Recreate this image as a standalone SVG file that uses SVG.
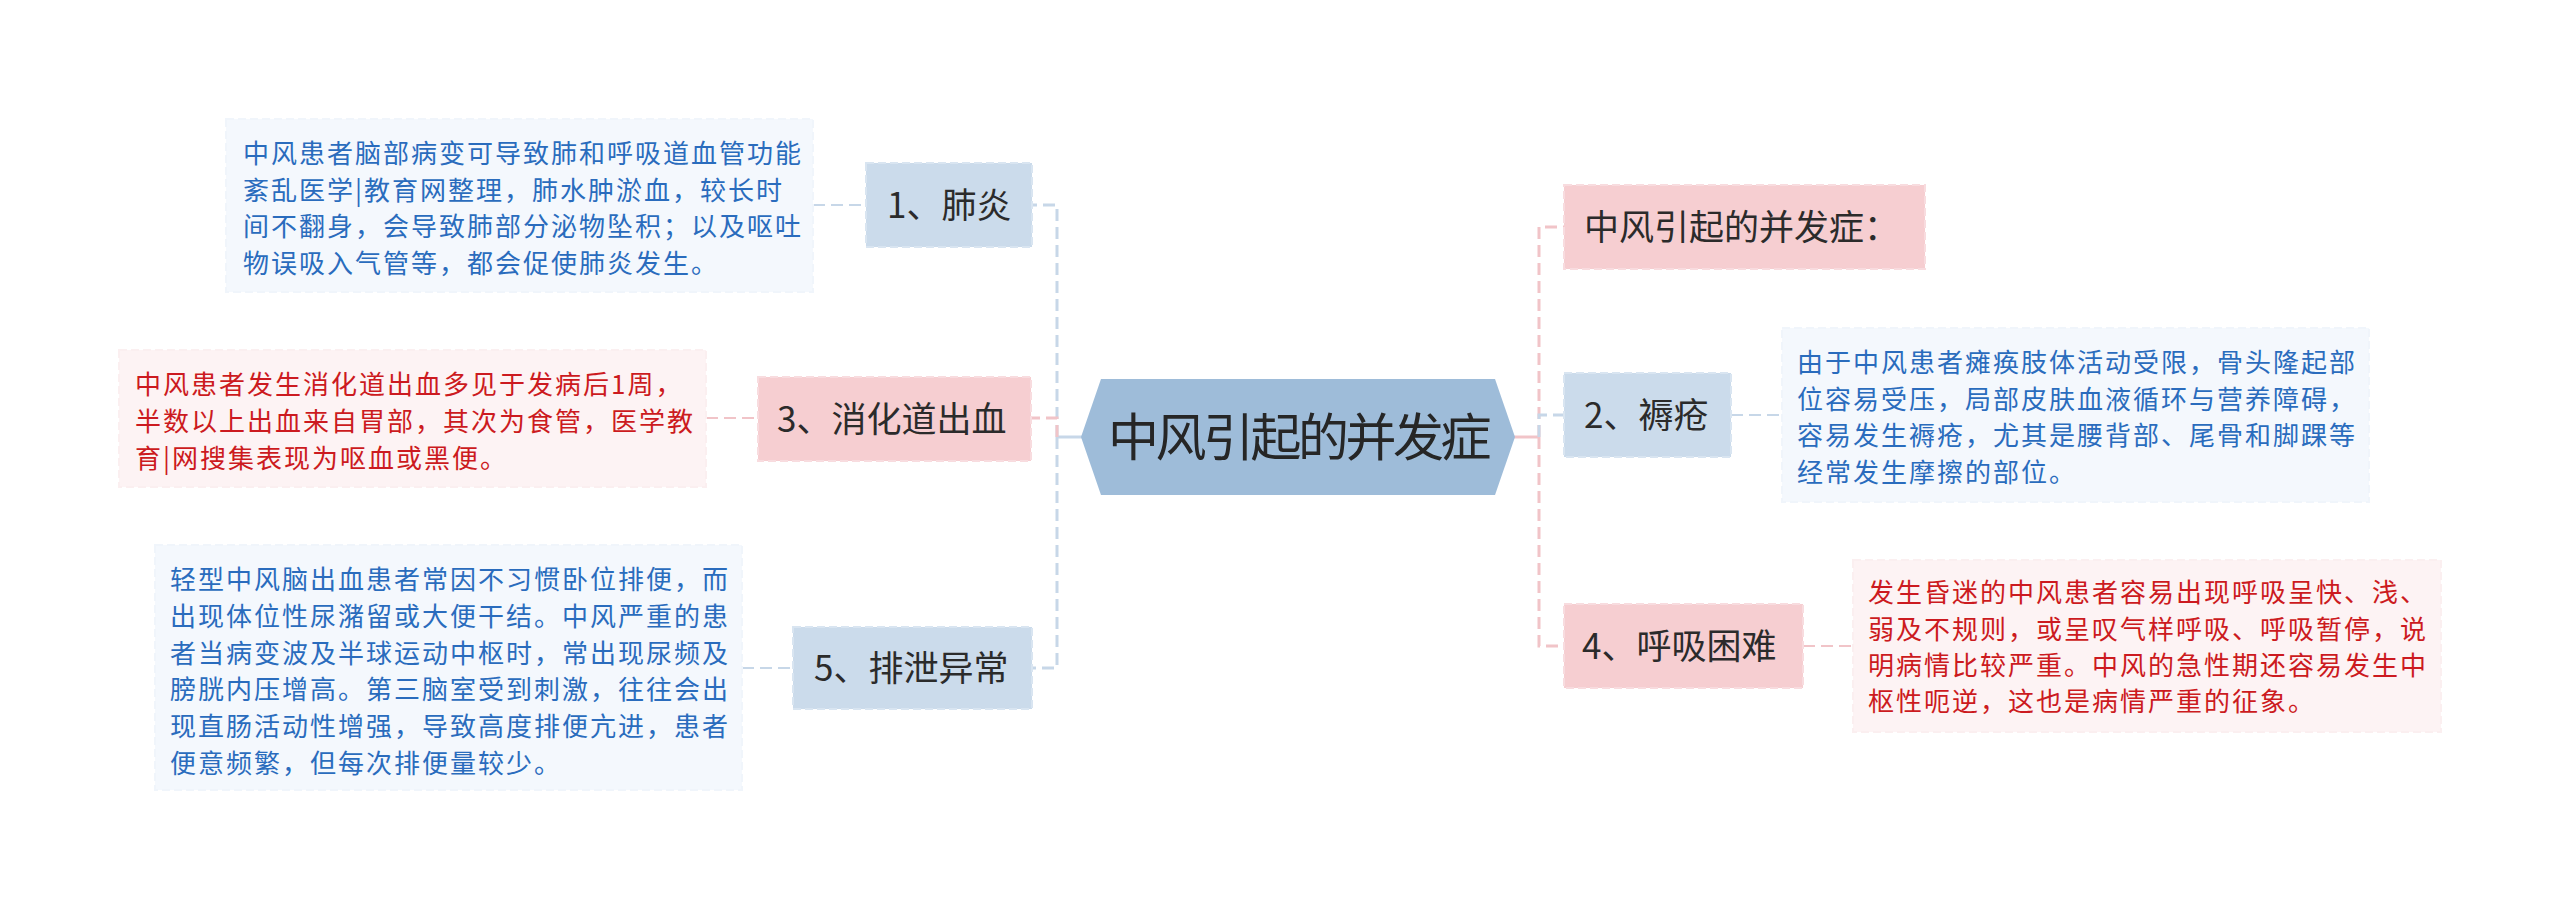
<svg xmlns="http://www.w3.org/2000/svg" width="2560" height="910" viewBox="0 0 2560 910">
<style>
text{font-family:"Noto Sans CJK SC","Noto Sans",sans-serif}
.lbl{font-size:35px;fill:#2b2b2b}
.dt{font-size:26px;letter-spacing:2px}
.db{fill:#2a6cbd}
.dr{fill:#cc1a20}
.nb{fill:#cbdbeb;stroke:#d9e5f1;stroke-width:2;stroke-dasharray:8 4}
.np{fill:#f6ced1;stroke:#f8dcdf;stroke-width:2;stroke-dasharray:8 4}
.xb{fill:#f4f8fd;stroke:#f0f5fb;stroke-width:2;stroke-dasharray:8 4}
.xp{fill:#fdf3f4;stroke:#fbeff0;stroke-width:2;stroke-dasharray:8 4}
.cb{fill:none;stroke:#c7d7e8;stroke-width:3;stroke-dasharray:12 6}
.cp{fill:none;stroke:#f1c4c8;stroke-width:3;stroke-dasharray:12 6}
.sb{fill:none;stroke:#c7d7e8;stroke-width:3}
.sp{fill:none;stroke:#f1c4c8;stroke-width:3}
</style>
<rect width="2560" height="910" fill="#ffffff"/>
<g id="connectors">
<path class="sb" d="M1082,437 H1057"/>
<path class="cb" d="M1057,437 V205 H1032"/>
<path class="cb" d="M1057,437 V668 H1032"/>
<path class="cp" d="M1057,437 V418 H1031"/>
<path class="sp" d="M1514,437 H1539"/>
<path class="cp" d="M1539,437 V227 H1564"/>
<path class="cp" d="M1539,437 V646 H1564"/>
<path class="cb" d="M1539,437 V415 H1564"/>
<path class="cb" style="stroke-width:2" d="M813,205 H866"/>
<path class="cp" style="stroke-width:2" d="M706,418 H758"/>
<path class="cb" style="stroke-width:2" d="M742,668 H793"/>
<path class="cb" style="stroke-width:2" d="M1731,415 H1782"/>
<path class="cp" style="stroke-width:2" d="M1803,646 H1853"/>
</g>
<g id="center">
<polygon points="1081,437 1101,379 1495,379 1515,437 1495,495 1101,495" fill="#9ebcd9"/>
<text x="1108" y="456" style="font-size:51px;letter-spacing:-3.5px;fill:#262626">中风引起的并发症</text>
</g>
<g id="n1">
<rect class="nb" x="866" y="163" width="166" height="84"/>
<text class="lbl" x="887" y="218">1、肺炎</text>
</g>
<g id="d1">
<rect class="xb" x="226" y="119" width="587" height="173"/>
<text class="dt db" x="243" y="163">中风患者脑部病变可导致肺和呼吸道血管功能</text>
<text class="dt db" x="243" y="199.5">紊乱医学|教育网整理，肺水肿淤血，较长时</text>
<text class="dt db" x="243" y="236">间不翻身，会导致肺部分泌物坠积；以及呕吐</text>
<text class="dt db" x="243" y="272.5">物误吸入气管等，都会促使肺炎发生。</text>
</g>
<g id="n3">
<rect class="np" x="758" y="377" width="273" height="84"/>
<text class="lbl" x="777" y="432">3、消化道出血</text>
</g>
<g id="d3">
<rect class="xp" x="119" y="350" width="587" height="137"/>
<text class="dt dr" x="135" y="394">中风患者发生消化道出血多见于发病后1周，</text>
<text class="dt dr" x="135" y="431">半数以上出血来自胃部，其次为食管，医学教</text>
<text class="dt dr" x="135" y="467.5">育|网搜集表现为呕血或黑便。</text>
</g>
<g id="n5">
<rect class="nb" x="793" y="627" width="239" height="82"/>
<text class="lbl" x="814" y="681">5、排泄异常</text>
</g>
<g id="d5">
<rect class="xb" x="155" y="545" width="587" height="245"/>
<text class="dt db" x="170" y="589">轻型中风脑出血患者常因不习惯卧位排便，而</text>
<text class="dt db" x="170" y="626">出现体位性尿潴留或大便干结。中风严重的患</text>
<text class="dt db" x="170" y="662.5">者当病变波及半球运动中枢时，常出现尿频及</text>
<text class="dt db" x="170" y="699">膀胱内压增高。第三脑室受到刺激，往往会出</text>
<text class="dt db" x="170" y="736">现直肠活动性增强，导致高度排便亢进，患者</text>
<text class="dt db" x="170" y="772.5">便意频繁，但每次排便量较少。</text>
</g>
<g id="n0">
<rect class="np" x="1564" y="185" width="361" height="84"/>
<text class="lbl" x="1584" y="240">中风引起的并发症：</text>
</g>
<g id="n2">
<rect class="nb" x="1564" y="373" width="167" height="84"/>
<text class="lbl" x="1584" y="428">2、褥疮</text>
</g>
<g id="d2">
<rect class="xb" x="1782" y="328" width="587" height="174"/>
<text class="dt db" x="1797" y="372">由于中风患者瘫痪肢体活动受限，骨头隆起部</text>
<text class="dt db" x="1797" y="409">位容易受压，局部皮肤血液循环与营养障碍，</text>
<text class="dt db" x="1797" y="445">容易发生褥疮，尤其是腰背部、尾骨和脚踝等</text>
<text class="dt db" x="1797" y="481.5">经常发生摩擦的部位。</text>
</g>
<g id="n4">
<rect class="np" x="1564" y="604" width="239" height="84"/>
<text class="lbl" x="1582" y="659">4、呼吸困难</text>
</g>
<g id="d4">
<rect class="xp" x="1853" y="560" width="588" height="172"/>
<text class="dt dr" x="1868" y="602">发生昏迷的中风患者容易出现呼吸呈快、浅、</text>
<text class="dt dr" x="1868" y="638.5">弱及不规则，或呈叹气样呼吸、呼吸暂停，说</text>
<text class="dt dr" x="1868" y="674.5">明病情比较严重。中风的急性期还容易发生中</text>
<text class="dt dr" x="1868" y="710.5">枢性呃逆，这也是病情严重的征象。</text>
</g>
</svg>
